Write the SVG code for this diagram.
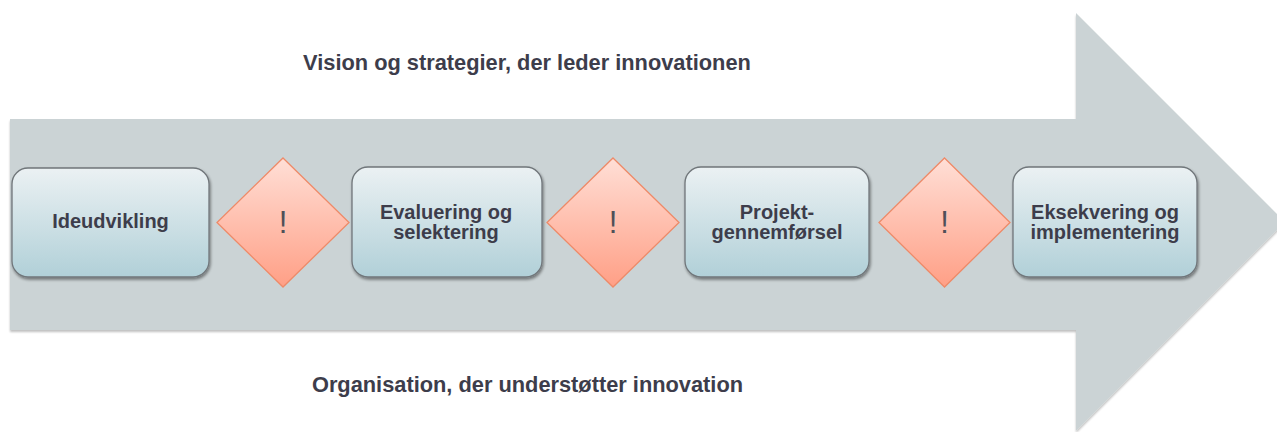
<svg xmlns="http://www.w3.org/2000/svg" width="1277" height="432" viewBox="0 0 1277 432">
  <defs>
    <linearGradient id="boxFill" x1="0" y1="0" x2="0" y2="1">
      <stop offset="0" stop-color="#ebf1f3"/>
      <stop offset="1" stop-color="#b1d0d8"/>
    </linearGradient>
    <linearGradient id="gateFill" x1="0" y1="0" x2="0" y2="1">
      <stop offset="0" stop-color="#ffdfd6"/>
      <stop offset="1" stop-color="#ff9f86"/>
    </linearGradient>
    <filter id="shadow" x="-10%" y="-10%" width="120%" height="130%">
      <feGaussianBlur in="SourceAlpha" stdDeviation="1.6"/>
      <feOffset dx="0.5" dy="2" result="b"/>
      <feComponentTransfer><feFuncA type="linear" slope="0.45"/></feComponentTransfer>
      <feMerge><feMergeNode/><feMergeNode in="SourceGraphic"/></feMerge>
    </filter>
    <filter id="arrowShadow" x="-5%" y="-5%" width="110%" height="115%">
      <feGaussianBlur in="SourceAlpha" stdDeviation="1"/>
      <feOffset dx="0" dy="2"/>
      <feComponentTransfer><feFuncA type="linear" slope="0.25"/></feComponentTransfer>
      <feMerge><feMergeNode/><feMergeNode in="SourceGraphic"/></feMerge>
    </filter>
  </defs>
  <style>
    .lbl { font-family: "Liberation Sans", Arial, sans-serif; font-weight: bold; fill: #3d3d4b; }
    .side { font-size: 21.8px; }
    .step rect { fill: url(#boxFill); stroke: #70767a; stroke-width: 1.3; filter: url(#shadow); }
    .step text { font-size: 20px; text-anchor: middle; }
    .gate path { fill: url(#gateFill); stroke: #ee8a68; stroke-width: 1.3; }
    .gate text { font-family: "Liberation Sans", Arial, sans-serif; font-size: 31px; fill: #505058; text-anchor: middle; }
  </style>

  <rect width="1277" height="432" fill="#ffffff"/>

  <!-- big process arrow -->
  <g id="process-arrow">
    <path d="M10,119 H1076 V13 L1285,222 L1076,431 V330 H10 Z" fill="#cbd3d5" filter="url(#arrowShadow)"/>
  </g>

  <!-- side captions -->
  <g id="caption-top">
    <text class="lbl side" x="527" y="70" text-anchor="middle">Vision og strategier, der leder innovationen</text>
  </g>
  <g id="caption-bottom">
    <text class="lbl side" x="527.5" y="392" text-anchor="middle">Organisation, der understøtter innovation</text>
  </g>

  <!-- connectors: steps sit directly next to each other, no separate lines -->
  <g id="connectors"></g>

  <!-- process steps -->
  <g id="step-ideudvikling" class="step">
    <rect x="12" y="168" width="197" height="109" rx="16"/>
    <text class="lbl" x="110.5" y="228">Ideudvikling</text>
  </g>
  <g id="gate-1" class="gate">
    <path d="M283,158 L349,222.5 L283,287 L217,222.5 Z"/>
    <text x="283" y="233">!</text>
  </g>
  <g id="step-evaluering" class="step">
    <rect x="352" y="167" width="190" height="110" rx="16"/>
    <text class="lbl" x="446" y="219">Evaluering og</text>
    <text class="lbl" x="446" y="239">selektering</text>
  </g>
  <g id="gate-2" class="gate">
    <path d="M613,158 L679,222.5 L613,287 L547,222.5 Z"/>
    <text x="613" y="233">!</text>
  </g>
  <g id="step-projekt" class="step">
    <rect x="685" y="167" width="184" height="110" rx="16"/>
    <text class="lbl" x="777" y="219">Projekt-</text>
    <text class="lbl" x="777" y="239">gennemførsel</text>
  </g>
  <g id="gate-3" class="gate">
    <path d="M944.5,158 L1010,222.5 L944.5,287 L879,222.5 Z"/>
    <text x="944.5" y="233">!</text>
  </g>
  <g id="step-eksekvering" class="step">
    <rect x="1013" y="167" width="184" height="110" rx="16"/>
    <text class="lbl" x="1105" y="219">Eksekvering og</text>
    <text class="lbl" x="1105" y="239">implementering</text>
  </g>
</svg>
